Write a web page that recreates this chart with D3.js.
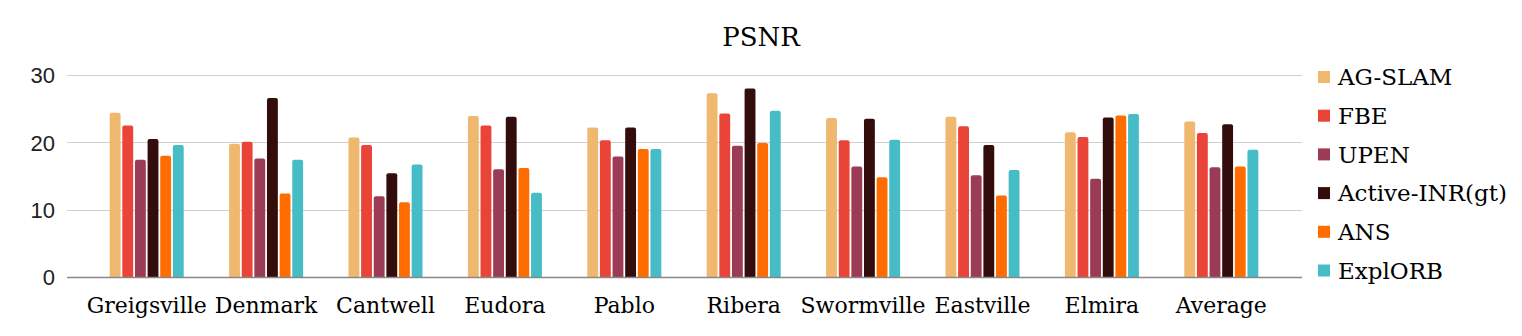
<!DOCTYPE html>
<html>
<head>
<meta charset="utf-8">
<script src="https://cdn.jsdelivr.net/npm/d3@7"></script>
<style>
  html, body { margin: 0; padding: 0; background: #fff; }
  svg { display: block; }
</style>
</head>
<body>
<div id="chart"></div>
<script>
// PSNR grouped bar chart

const categories = ["Greigsville", "Denmark", "Cantwell", "Eudora", "Pablo",
  "Ribera", "Swormville", "Eastville", "Elmira", "Average"];

const seriesNames = ["AG-SLAM", "FBE", "UPEN", "Active-INR(gt)", "ANS", "ExplORB"];

const agSlam   = [24.4, 19.8, 20.7, 23.9, 22.2, 27.3, 23.6, 23.8, 21.5, 23.1];
const fbe      = [22.5, 20.1, 19.6, 22.5, 20.3, 24.3, 20.3, 22.4, 20.8, 21.4];
const upen     = [17.4, 17.6, 12.0, 16.0, 17.9, 19.5, 16.4, 15.1, 14.6, 16.3];
const activeGt = [20.5, 26.6, 15.4, 23.8, 22.2, 28.0, 23.5, 19.6, 23.7, 22.7];
const ans      = [18.0, 12.4, 11.1, 16.2, 19.0, 19.9, 14.8, 12.1, 24.0, 16.4];
const explOrb  = [19.6, 17.4, 16.7, 12.5, 19.0, 24.7, 20.4, 15.9, 24.2, 18.9];

const yTicks = [0, 10, 20, 30];

const seriesValues = [agSlam, fbe, upen, activeGt, ans, explOrb];
const colors = ["#f0b86e", "#e94437", "#9c3b55", "#330c0c", "#ff6d00", "#46bdc6"];

const width = 1522;
const height = 336;

const svg = d3.select("#chart")
  .append("svg")
  .attr("width", width)
  .attr("height", height);

// plot geometry
const gridLeft = 67, gridRight = 1302;
const x0 = d3.scaleBand().domain(categories).range([87, 1281]).padding(0);
const bw = x0.bandwidth();
const x1 = d3.scaleBand().domain(seriesNames)
  .range([bw * 0.19, bw * 0.81])
  .paddingInner(0.14);
const y = d3.scaleLinear().domain([0, 30]).range([277, 75]);

// title
svg.append("text")
  .attr("x", 761)
  .attr("y", 46)
  .attr("text-anchor", "middle")
  .attr("font-family", "'DejaVu Serif', serif")
  .attr("font-size", 26)
  .attr("fill", "#000")
  .text("PSNR");

// gridlines
svg.append("g")
  .selectAll("line")
  .data(yTicks.filter(d => d !== 0))
  .join("line")
  .attr("x1", gridLeft)
  .attr("x2", gridRight)
  .attr("y1", d => Math.round(y(d)) + 0.5)
  .attr("y2", d => Math.round(y(d)) + 0.5)
  .attr("stroke", "#d0d0d0")
  .attr("stroke-width", 1);

// y tick labels
const yAxis = d3.axisLeft(y).tickValues(yTicks).tickSize(0).tickPadding(0);
const yAxisG = svg.append("g")
  .attr("transform", "translate(55,0)")
  .call(yAxis);
yAxisG.select(".domain").remove();
yAxisG.selectAll("text")
  .attr("font-family", "'Liberation Sans', Arial, sans-serif")
  .attr("font-size", 22)
  .attr("fill", "#222")
  .attr("dy", "0.35em");

// bars with rounded top corners
function barPath(x, yTop, w, yBase, r) {
  const h = yBase - yTop;
  r = Math.min(r, w / 2, h);
  return `M${x},${yBase}V${yTop + r}Q${x},${yTop} ${x + r},${yTop}` +
    `H${x + w - r}Q${x + w},${yTop} ${x + w},${yTop + r}V${yBase}Z`;
}

const groups = svg.append("g")
  .selectAll("g")
  .data(categories)
  .join("g")
  .attr("transform", d => `translate(${x0(d)},0)`);

groups.selectAll("path")
  .data((c, i) => seriesNames.map((s, j) => ({ s, j, v: seriesValues[j][i] })))
  .join("path")
  .attr("d", d => barPath(x1(d.s), y(d.v), x1.bandwidth(), y(0), 2))
  .attr("fill", d => colors[d.j]);

// baseline
svg.append("line")
  .attr("x1", gridLeft)
  .attr("x2", gridRight)
  .attr("y1", y(0) + 0.5)
  .attr("y2", y(0) + 0.5)
  .attr("stroke", "#888")
  .attr("stroke-width", 1.6);

// x labels
const xAxis = d3.axisBottom(x0).tickSize(0).tickPadding(0);
const xAxisG = svg.append("g")
  .attr("transform", "translate(0,313)")
  .call(xAxis);
xAxisG.select(".domain").remove();
xAxisG.selectAll("text")
  .attr("font-family", "'DejaVu Serif', serif")
  .attr("font-size", 22)
  .attr("fill", "#000")
  .attr("dy", 0);

// legend
const legend = svg.append("g")
  .selectAll("g")
  .data(seriesNames)
  .join("g")
  .attr("transform", (d, i) => `translate(1318,${77 + i * 38.7})`);

legend.append("rect")
  .attr("x", 0)
  .attr("y", -6)
  .attr("width", 12)
  .attr("height", 12)
  .attr("fill", (d, i) => colors[i]);

legend.append("text")
  .attr("x", 20)
  .attr("y", 0)
  .attr("dy", "0.36em")
  .attr("font-family", "'DejaVu Serif', serif")
  .attr("font-size", 23)
  .attr("fill", "#000")
  .text(d => d);
</script>
</body>
</html>
